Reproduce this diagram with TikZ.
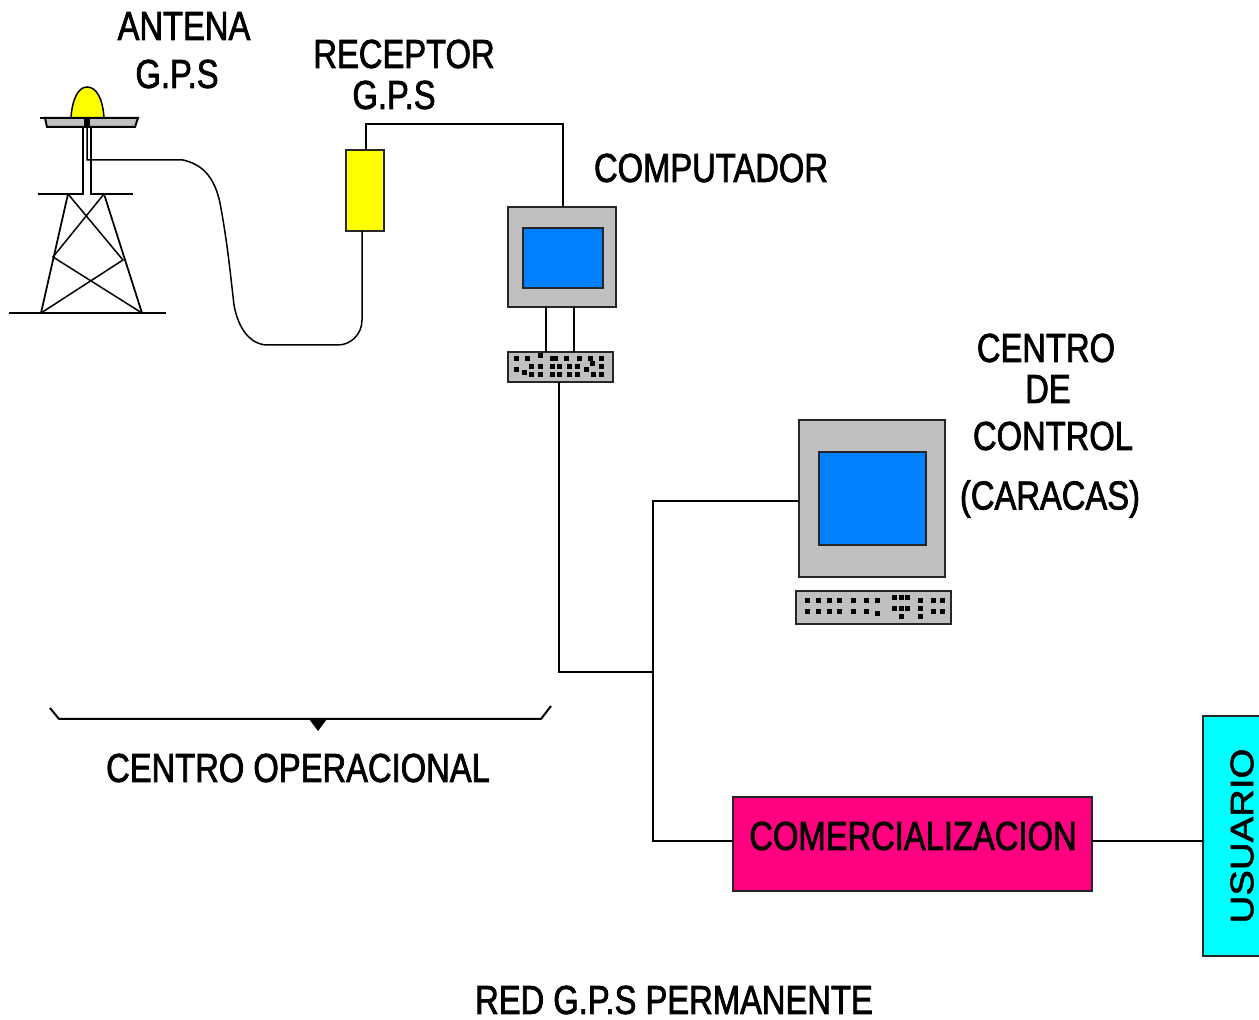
\documentclass[tikz,border=0pt]{standalone}
\usepackage{fontspec}
\usepackage{tikz}
\usetikzlibrary{positioning, calc}
\newfontfamily\labelfont[FakeStretch=0.81,FakeBold=1.8]{Liberation Sans}
\newfontfamily\sidefont[FakeStretch=1.18,FakeBold=1.8]{Liberation Sans}
\definecolor{gpsyellow}{HTML}{FFFF00}
\definecolor{gpsgray}{HTML}{C0C0C0}
\definecolor{gpsblue}{HTML}{0080FF}
\definecolor{gpspink}{HTML}{FF0080}
\definecolor{gpscyan}{HTML}{00FFFF}

\begin{document}
\begin{tikzpicture}[
  x=0.02cm, y=-0.02cm,
  line width=0.04cm,
  label text/.style={font=\labelfont\fontsize{23}{23}\selectfont, inner sep=0pt, text=black},
  box/.style={draw=black!85, anchor=north west, inner sep=0pt, outer sep=0pt},
  keydot/.style={fill=black, minimum size=0.1cm, inner sep=0pt}
]
\clip (0,0) rectangle (1259,1020);

% antenna and tower
\draw[fill=gpsyellow, line width=0.03cm] (71,118) .. controls (72,100) and (78,87) .. (87,87) .. controls (97,87) and (103,100) .. (104,118) -- cycle;
\draw[fill=gpsgray] (45,118) -- (138,118) -- (135,127) -- (47,127) -- cycle;
\draw (40,118) -- (138,118);
\fill (84,118) rectangle (90,127);
\draw (83,127) -- (83,194) -- (38,194);
\draw (91,127) -- (91,194) -- (133,194);
\draw (9,313) -- (166,313);
\draw[line width=0.035cm] (68,194) -- (41,313) (104,194) -- (142,313);
\draw[line width=0.03cm] (68,194) -- (123,260) -- (41,313);
\draw[line width=0.03cm] (104,194) -- (53,257) -- (142,313);

% receiver and computer
\node[box, fill=gpsyellow, minimum width=0.76cm, minimum height=1.62cm] (receptor) at (346,150) {};
\node[box, fill=gpsgray, minimum width=2.16cm, minimum height=2cm] (computador) at (508,207) {};
\node[box, fill=gpsblue, minimum width=1.6cm, minimum height=1.2cm] (pantalla) at (523,228) {};
\node[box, fill=gpsgray, minimum width=2.1cm, minimum height=0.6cm, line width=0.03cm] (teclado) at (508,352) {};
\draw (546,307) -- (546,352);
\draw (574,307) -- (574,352);
\foreach \px/\py in {516/359,527/359,540/356,552/359,555/359,566/359,579/359,590/359,592/364,601/359,
  531/367,540/367,552/367,559/367,569/367,577/367,601/367,
  516/370,524/373,531/375,540/375,552/375,559/375,569/375,577/375,586/370,593/375,601/375}
  \node[keydot] at (\px,\py) {};

% control centre
\node[box, fill=gpsgray, minimum width=2.92cm, minimum height=3.14cm] (control) at (799,420) {};
\node[box, fill=gpsblue, minimum width=2.14cm, minimum height=1.86cm] (monitor) at (819,452) {};
\node[box, fill=gpsgray, minimum width=3.1cm, minimum height=0.66cm] (consola) at (796,591) {};
\foreach \px in {807,818,829,839,853,866,877}
  \node[keydot] at (\px,601) {};
\foreach \px/\py in {807/612,818/612,829/612,839/612,853/612,866/612,877/614,
  894/598,901/598,907/598,894/609,901/609,907/609,901/617,
  920/601,920/609,920/617,933/601,942/601,933/612,942/612}
  \node[keydot] at (\px,\py) {};

% sales and user
\node[box, fill=gpspink, minimum width=7.18cm, minimum height=1.88cm] (comercial) at (733,797) {};
\node[box, fill=gpscyan, minimum width=1.3cm, minimum height=4.8cm] (usuario) at (1203,716) {};

% cables
\coordinate (feed) at (87,127);
\coordinate (toprcv) at (366,124);
\coordinate (topcomp) at (563,124);
\coordinate (bus) at (653,672);
\draw[line width=0.03cm] (feed) -- (87,160) -- (183,160)
  .. controls (205,165) and (215,180) .. (220,203)
  .. controls (227,240) and (230,270) .. (234,305)
  .. controls (238,328) and (250,345) .. (268,345)
  -- (338,345) .. controls (350,345) and (362,335) .. (362,320)
  -- (receptor.south -| 362,0);
\draw (toprcv |- receptor.north) -- (toprcv) -- (topcomp) -- (topcomp |- computador.north);
\draw (teclado.south -| 559,0) -- (559,672) -- (bus);
\draw (control.west |- 0,501) -- (653,501) -- (653,841) -- (comercial.west |- 0,841);
\draw (comercial.east |- 0,841) -- (usuario.west |- 0,841);

% brace
\draw (50,708) -- (59,719) -- (541,719) -- (551,706);
\fill (309,719) -- (327,719) -- (318,731) -- cycle;

% labels
\node[label text] (antena) at (184,26) {ANTENA};
\node[label text] (antenagps) at (177,74) {G.P.S};
\node[label text] (receptorlbl) at (404,54) {RECEPTOR};
\node[label text] (receptorgps) at (394,95) {G.P.S};
\node[label text] (computadorlbl) at (711,168) {COMPUTADOR};
\node[label text] (centro) at (1046,348) {CENTRO};
\node[label text] (de) at (1048,389) {DE};
\node[label text] (controllbl) at (1053,436) {CONTROL};
\node[label text] (caracas) at (1050,499) {(CARACAS)};
\node[label text] (operacional) at (298,768) {CENTRO OPERACIONAL};
\node[label text] (comerciallbl) at (913,836) {COMERCIALIZACION};
\node[label text, font=\sidefont\fontsize{18.5}{18.5}\selectfont, rotate=90] (usuariolbl) at (1242,836) {USUARIO};
\node[label text] (red) at (674,1000) {RED G.P.S PERMANENTE};
\end{tikzpicture}
\end{document}
